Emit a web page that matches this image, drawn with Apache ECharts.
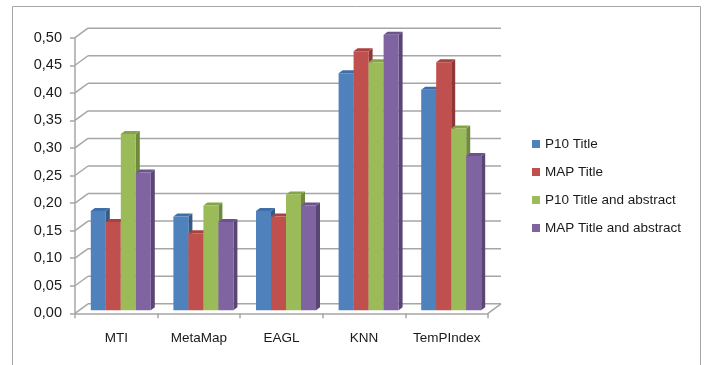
<!DOCTYPE html>
<html>
<head>
<meta charset="utf-8">
<script src="https://cdn.jsdelivr.net/npm/echarts@6/dist/echarts.min.js"></script>
<style>
  html, body { margin: 0; padding: 0; background: #fff; }
  #main { width: 705px; height: 365px; }
</style>
</head>
<body>
<div id="main"></div>
<script>
// categories and values
var categories = ['MTI', 'MetaMap', 'EAGL', 'KNN', 'TemPIndex'];
var p10Title = [0.18, 0.17, 0.18, 0.43, 0.40];
var mapTitle = [0.16, 0.14, 0.17, 0.47, 0.45];
var p10TitleAbstract = [0.32, 0.19, 0.21, 0.45, 0.33];
var mapTitleAbstract = [0.25, 0.16, 0.19, 0.50, 0.28];
var yTicks = [0, 0.05, 0.10, 0.15, 0.20, 0.25, 0.30, 0.35, 0.40, 0.45, 0.50];

var seriesNames = ['P10 Title', 'MAP Title', 'P10 Title and abstract', 'MAP Title and abstract'];
var seriesValues = [p10Title, mapTitle, p10TitleAbstract, mapTitleAbstract];
// front, top, side colours
var palette = [
  ['#4f81bd', '#3f6ea8', '#345a88'],
  ['#c0504d', '#a8423f', '#8c3836'],
  ['#9bbb59', '#84a447', '#6f8a3b'],
  ['#8064a2', '#6d538c', '#5a4674']
];

// depth of the 3d box
var DX = 13, DY = -9.5;
// bar layout
var BW = 15, BOX = 4.5, BOY = -3, SD = 4, SDY = -3;
var lineColor = '#a6a6a6';

var chartDom = document.getElementById('main');
var myChart = echarts.init(chartDom, null, { renderer: 'canvas' });
var option;

function makeBar(idx) {
  return function (params, api) {
    var cat = api.value(0);
    var top = api.coord([cat, api.value(1)]);
    var base = api.coord([cat, 0]);
    var x0 = top[0] + BOX + (idx - 2) * BW;
    var x1 = x0 + BW;
    var yt = top[1] + BOY;
    var yb = base[1] + BOY;
    var c = palette[idx];
    return {
      type: 'group',
      children: [
        {
          type: 'polygon',
          shape: { points: [[x1, yt], [x1 + SD, yt + SDY], [x1 + SD, yb + SDY], [x1, yb]] },
          style: { fill: c[2] }
        },
        {
          type: 'polygon',
          shape: { points: [[x0, yt], [x1, yt], [x1 + SD, yt + SDY], [x0 + SD, yt + SDY]] },
          style: { fill: c[1] }
        },
        {
          type: 'rect',
          shape: { x: x0, y: yt, width: BW, height: yb - yt },
          style: { fill: c[0] }
        }
      ]
    };
  };
}

// back wall gridlines + left wall diagonals + floor edge
function renderWalls(params, api) {
  var cs = params.coordSys;
  var y = api.coord([0, api.value(1)])[1];
  var children = [
    {
      type: 'line',
      shape: { x1: cs.x, y1: y, x2: cs.x + DX, y2: y + DY },
      style: { stroke: lineColor, lineWidth: 1.5 }
    },
    {
      type: 'line',
      shape: { x1: cs.x + DX, y1: y + DY, x2: cs.x + cs.width + DX, y2: y + DY },
      style: { stroke: lineColor, lineWidth: 1.5 }
    }
  ];
  if (api.value(1) === 0) {
    children.push({
      type: 'line',
      shape: { x1: cs.x + cs.width, y1: y, x2: cs.x + cs.width + DX, y2: y + DY },
      style: { stroke: lineColor, lineWidth: 1.5 }
    });
  }
  return { type: 'group', children: children };
}

var series = [{
  name: 'walls',
  type: 'custom',
  z: 1,
  silent: true,
  renderItem: renderWalls,
  encode: { x: 0, y: 1 },
  data: yTicks.map(function (v) { return [0, v]; })
}];

seriesNames.forEach(function (name, idx) {
  series.push({
    name: name,
    type: 'custom',
    z: 2 + idx,
    itemStyle: { color: palette[idx][0] },
    renderItem: makeBar(idx),
    encode: { x: 0, y: 1 },
    data: seriesValues[idx].map(function (v, i) { return [i, v]; })
  });
});

option = {
  animation: false,
  textStyle: { fontFamily: 'Liberation Sans' },
  grid: { left: 75, right: 217, top: 37.7, bottom: 51.7 },
  graphic: [{
    type: 'rect',
    shape: { x: 12.5, y: 6.5, width: 688, height: 380 },
    style: { fill: 'none', stroke: '#a6a6a6', lineWidth: 1 },
    silent: true
  }],
  legend: {
    orient: 'vertical',
    left: 532,
    top: 137,
    padding: 0,
    itemWidth: 8,
    itemHeight: 8,
    itemGap: 14,
    icon: 'rect',
    data: seriesNames,
    textStyle: { fontSize: 13.5, lineHeight: 14, color: '#1a1a1a', fontFamily: 'Liberation Sans' }
  },
  xAxis: {
    type: 'category',
    data: categories,
    axisLine: { show: true, lineStyle: { color: lineColor, width: 1.5 } },
    axisTick: { show: true, length: 5, lineStyle: { color: lineColor, width: 1.5 } },
    axisLabel: { interval: 0, margin: 18, fontSize: 13.5, color: '#1a1a1a', fontFamily: 'Liberation Sans' },
    splitLine: { show: false }
  },
  yAxis: {
    type: 'value',
    min: 0,
    max: 0.5,
    interval: 0.05,
    axisLine: { show: true, lineStyle: { color: lineColor, width: 1.5 } },
    axisTick: { show: true, length: 5, lineStyle: { color: lineColor, width: 1.5 } },
    axisLabel: {
      margin: 13,
      fontSize: 14.5,
      color: '#1a1a1a',
      fontFamily: 'Liberation Sans',
      formatter: function (v) { return v.toFixed(2).replace('.', ','); }
    },
    splitLine: { show: false }
  },
  series: series
};

myChart.setOption(option);
</script>
</body>
</html>
